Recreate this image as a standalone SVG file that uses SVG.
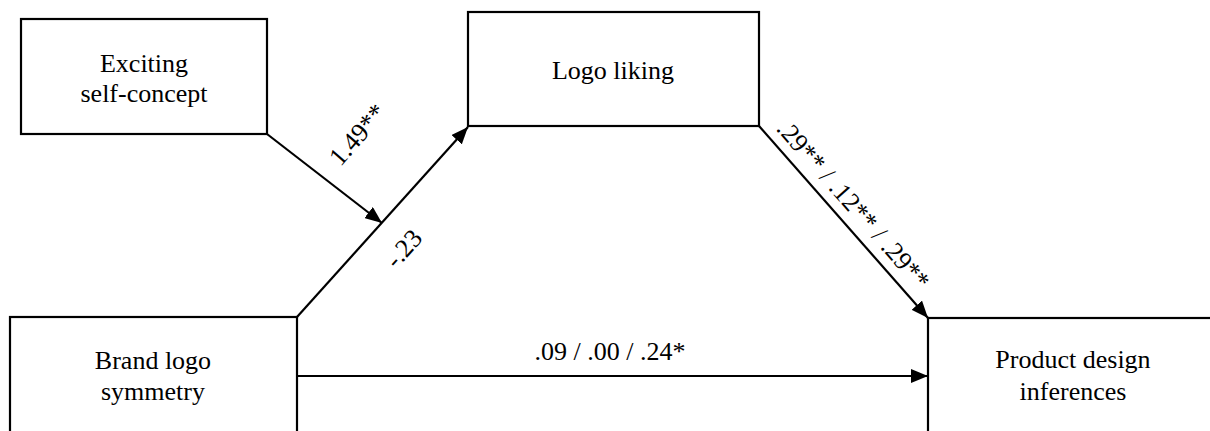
<svg xmlns="http://www.w3.org/2000/svg" width="1210" height="431" viewBox="0 0 1210 431">
  <style>
    .box { fill: #ffffff; stroke: #000000; stroke-width: 2.2; }
    .edge { fill: none; stroke: #000000; stroke-width: 2.2; }
    .t { font-family: 'Liberation Serif', 'DejaVu Serif', serif; font-size: 26px; fill: #000000; text-anchor: middle; }
  </style>
  <defs>
    <marker id="arrow" markerUnits="userSpaceOnUse" markerWidth="18" markerHeight="14" refX="17" refY="7" orient="auto">
      <path d="M0,0 L17,7 L0,14 z" fill="#000000"/>
    </marker>
  </defs>
  <rect width="1210" height="431" fill="#ffffff"/>

  <g id="connectors">
    <line class="edge" x1="297" y1="317" x2="468" y2="127" marker-end="url(#arrow)"/>
    <line class="edge" x1="267" y1="134" x2="382" y2="223" marker-end="url(#arrow)"/>
    <line class="edge" x1="759" y1="126" x2="928" y2="318" marker-end="url(#arrow)"/>
    <line class="edge" x1="297" y1="376" x2="928" y2="376" marker-end="url(#arrow)"/>
    <text class="t" font-family="Liberation Serif" transform="translate(358,135) rotate(-49)" y="8">1.49**</text>
    <text class="t" font-family="Liberation Serif" transform="translate(404,249) rotate(-48)" y="8">-.23</text>
    <text class="t" font-family="Liberation Serif" transform="translate(853,205) rotate(48.6)" y="8">.29** / .12** / .29**</text>
    <text class="t" font-family="Liberation Serif" x="610" y="360">.09 / .00 / .24*</text>
  </g>

  <g id="exciting-self-concept">
    <rect class="box" x="21" y="19" width="246" height="115"/>
    <text class="t" font-family="Liberation Serif" x="144" y="72">Exciting</text>
    <text class="t" font-family="Liberation Serif" x="144" y="102">self-concept</text>
  </g>

  <g id="logo-liking">
    <rect class="box" x="468" y="12" width="291" height="114"/>
    <text class="t" font-family="Liberation Serif" x="613" y="79">Logo liking</text>
  </g>

  <g id="brand-logo-symmetry">
    <rect class="box" x="10" y="317" width="287" height="130"/>
    <text class="t" font-family="Liberation Serif" x="153" y="369">Brand logo</text>
    <text class="t" font-family="Liberation Serif" x="153" y="400">symmetry</text>
  </g>

  <g id="product-design-inferences">
    <rect class="box" x="928" y="318" width="300" height="130"/>
    <text class="t" font-family="Liberation Serif" x="1073" y="368">Product design</text>
    <text class="t" font-family="Liberation Serif" x="1073" y="400">inferences</text>
  </g>
</svg>
